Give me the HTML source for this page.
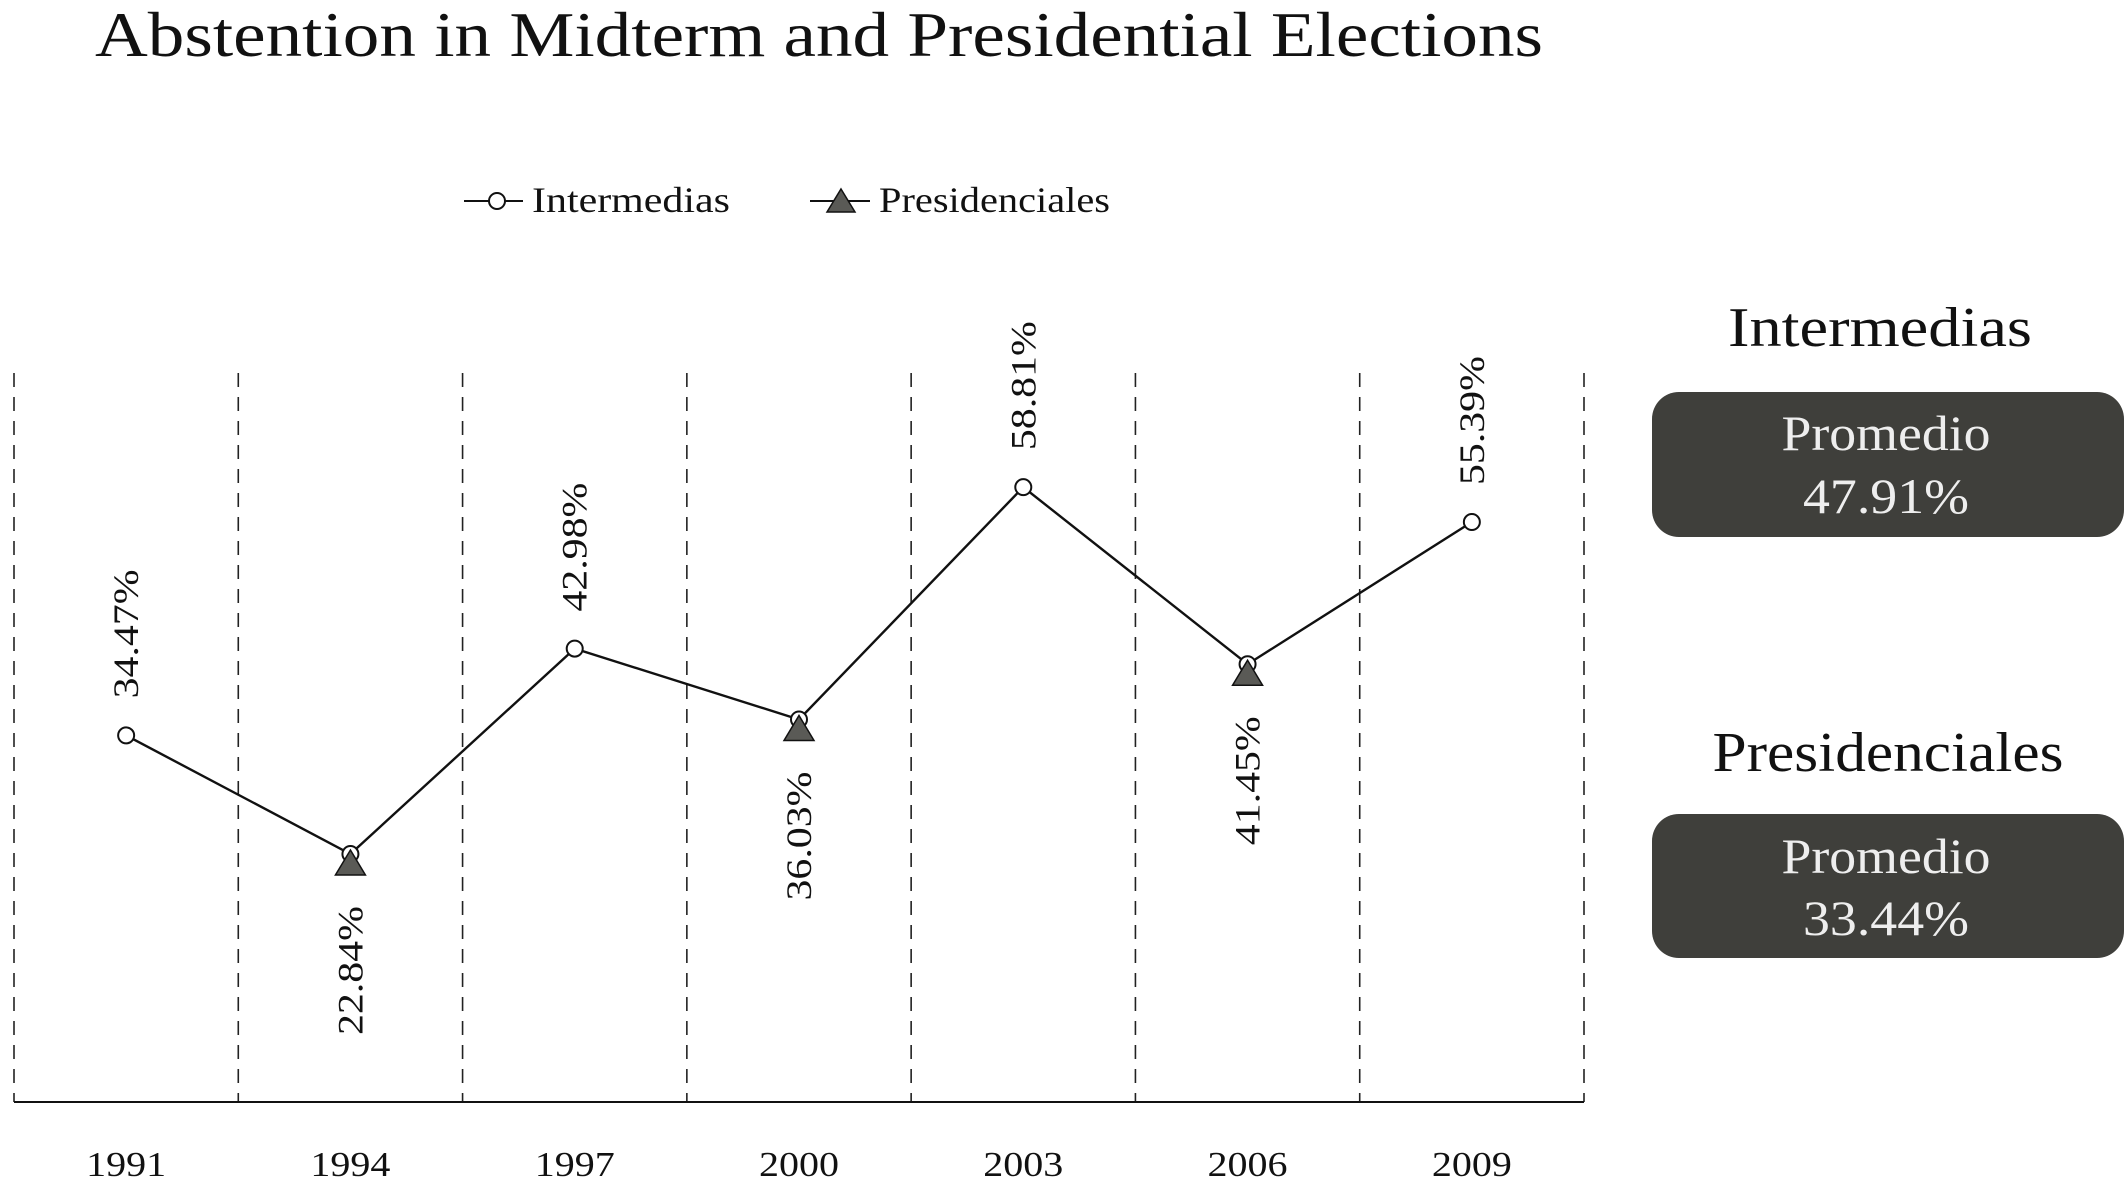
<!DOCTYPE html>
<html><head><meta charset="utf-8"><style>
html,body{margin:0;padding:0;background:#fff}
svg{display:block;font-family:"Liberation Serif",serif}
</style></head><body>
<svg id="chart" width="2128" height="1192" viewBox="0 0 2128 1192" xmlns="http://www.w3.org/2000/svg">
<text x="95" y="56" font-size="64" fill="#111" textLength="1448" lengthAdjust="spacingAndGlyphs">Abstention in Midterm and Presidential Elections</text>
<g>
  <g>
    <line x1="464" y1="201" x2="523" y2="201" stroke="#111" stroke-width="2"/>
    <circle cx="497" cy="201" r="8" fill="#fff" stroke="#111" stroke-width="2"/>
    <text x="532" y="212" font-size="36" fill="#111" textLength="198" lengthAdjust="spacingAndGlyphs">Intermedias</text>
  </g>
  <g>
    <line x1="810" y1="201" x2="870" y2="201" stroke="#111" stroke-width="2"/>
    <polygon points="841,189 855,212 827,212" fill="#5a5a56" stroke="#111" stroke-width="1.5"/>
    <text x="879" y="212" font-size="36" fill="#111" textLength="231" lengthAdjust="spacingAndGlyphs">Presidenciales</text>
  </g>
</g>
<g id="grid"></g>
<line x1="14" y1="1102" x2="1584" y2="1102" stroke="#111" stroke-width="2"/>
<g id="xlabels"></g>
<g id="series"></g>
<g font-size="50" text-anchor="middle">
  <text x="1880" y="346" font-size="56" fill="#111" textLength="304" lengthAdjust="spacingAndGlyphs">Intermedias</text>
  <rect x="1652" y="392" width="472" height="145" rx="27" fill="#3f3f3b"/>
  <text x="1886" y="450" fill="#eee" textLength="209" lengthAdjust="spacingAndGlyphs">Promedio</text>
  <text x="1886" y="513" fill="#eee" textLength="166" lengthAdjust="spacingAndGlyphs">47.91%</text>
  <text x="1888" y="771" font-size="56" fill="#111" textLength="351" lengthAdjust="spacingAndGlyphs">Presidenciales</text>
  <rect x="1652" y="814" width="472" height="144" rx="27" fill="#3f3f3b"/>
  <text x="1886" y="873" fill="#eee" textLength="209" lengthAdjust="spacingAndGlyphs">Promedio</text>
  <text x="1886" y="935" fill="#eee" textLength="166" lengthAdjust="spacingAndGlyphs">33.44%</text>
</g>
</svg>
<script>
const years = ["1991","1994","1997","2000","2003","2006","2009"];
const values = [34.47, 22.84, 42.98, 36.03, 58.81, 41.45, 55.39];
const isPresidential = [false, true, false, true, false, true, false];

const NS = "http://www.w3.org/2000/svg";
const xLeft = 14, xRight = 1584;
const step = (xRight - xLeft) / years.length;
function xScale(i){ return xLeft + step * (i + 0.5); }
function yScale(v){ return 1087 - 10.2 * v; }
function mk(tag, attrs, parent){ const e = document.createElementNS(NS, tag); for (const k in attrs) e.setAttribute(k, attrs[k]); parent.appendChild(e); return e; }

const grid = document.getElementById('grid');
for (let i = 0; i <= years.length; i++) {
  const x = xLeft + step * i;
  const l = mk('line', {x1:x, y1:373, x2:x, y2:1102, stroke:'#222', 'stroke-width':1.6, 'stroke-dasharray':'14 10'}, grid);
  
  
}
const xl = document.getElementById('xlabels');
years.forEach((y, i) => {
  const t = mk('text', {x:xScale(i), y:1176, 'font-size':35, 'text-anchor':'middle', fill:'#111', textLength:80, lengthAdjust:'spacingAndGlyphs'}, xl);
  t.textContent = y;
  
  
});
const s = document.getElementById('series');
const pts = values.map((v, i) => xScale(i) + ',' + yScale(v)).join(' ');
const pl = mk('polyline', {points:pts, fill:'none', stroke:'#111', 'stroke-width':2.4}, s);


values.forEach((v, i) => {
  const x = xScale(i), y = yScale(v);
  const c = mk('circle', {cx:x, cy:y, r:8, fill:'#fff', stroke:'#111', 'stroke-width':2}, s);
  
  
  if (isPresidential[i]) {
    const tr = mk('polygon', {points:`${x},${y-4} ${x+15},${y+21} ${x-15},${y+21}`, fill:'#5a5a56', stroke:'#111', 'stroke-width':1.5}, s);
    
    
  }
  const lx = x + 12;
  let t;
  if (isPresidential[i]) {
    const ly = y + 52;
    t = mk('text', {x:lx, y:ly, 'font-size':36, fill:'#111', 'text-anchor':'end', textLength:129, lengthAdjust:'spacingAndGlyphs', transform:`rotate(-90 ${lx} ${ly})`}, s);
  } else {
    const ly = y - 37;
    t = mk('text', {x:lx, y:ly, 'font-size':36, fill:'#111', 'text-anchor':'start', textLength:129, lengthAdjust:'spacingAndGlyphs', transform:`rotate(-90 ${lx} ${ly})`}, s);
  }
  t.textContent = v.toFixed(2) + '%';
  
  
});
</script>
</body></html>
